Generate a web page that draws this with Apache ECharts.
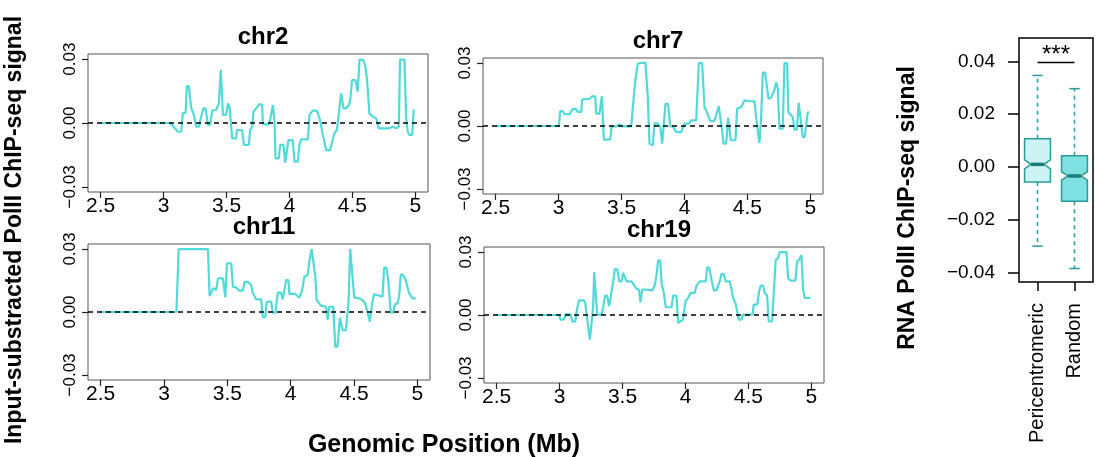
<!DOCTYPE html>
<html>
<head>
<meta charset="utf-8">
<script src="https://cdn.jsdelivr.net/npm/echarts@6/dist/echarts.min.js"></script>
<style>
  html, body { margin: 0; padding: 0; background: #fff; }
  #chart { width: 1099px; height: 457px; }
</style>
</head>
<body>
<div id="chart"></div>
<script>
// Genomic positions (Mb) and input-subtracted Pol II signal, per chromosome
const chr2Pos = [2.5, 3.05, 3.074, 3.114, 3.14, 3.153, 3.175, 3.185, 3.201, 3.22, 3.238, 3.259, 3.28, 3.299, 3.317, 3.333, 3.352, 3.37, 3.386, 3.418, 3.439, 3.455, 3.471, 3.497, 3.511, 3.524, 3.545, 3.577, 3.582, 3.624, 3.638, 3.677, 3.688, 3.704, 3.714, 3.735, 3.762, 3.783, 3.788, 3.828, 3.847, 3.868, 3.881, 3.889, 3.915, 3.926, 3.952, 3.966, 3.981, 3.992, 4.026, 4.04, 4.066, 4.079, 4.093, 4.146, 4.159, 4.185, 4.217, 4.243, 4.265, 4.278, 4.291, 4.323, 4.336, 4.357, 4.376, 4.392, 4.41, 4.429, 4.45, 4.471, 4.481, 4.497, 4.524, 4.542, 4.556, 4.582, 4.601, 4.616, 4.635, 4.661, 4.688, 4.709, 4.794, 4.82, 4.847, 4.868, 4.878, 4.913, 4.926, 4.939, 4.952, 4.974, 4.987];
const chr2Sig = [0, 0, -0.0014, -0.0041, -0.0041, 0.0045, 0.0048, 0.0173, 0.0173, 0.0069, 0.0045, -0.0017, -0.0017, 0.003, 0.0069, 0.0069, -0.0009, -0.0009, 0.0058, 0.0061, 0.0092, 0.025, 0.0038, 0.0038, 0.0092, 0.0077, -0.0072, -0.0072, -0.0033, -0.0033, -0.0103, -0.0103, -0.0033, -0.0017, 0.0053, 0.0069, 0.0088, 0.0088, -0.0002, -0.0009, 0.0014, 0.0084, 0.0014, -0.0166, -0.0166, -0.0103, -0.0103, -0.0186, -0.0186, -0.008, -0.008, -0.0181, -0.0181, -0.0103, -0.0077, -0.0077, 0.0038, 0.0058, 0.0058, 0.0014, -0.0056, -0.0064, -0.0127, -0.0127, -0.0095, -0.0048, -0.0033, 0.0045, 0.0139, 0.0069, 0.0069, 0.0084, 0.01, 0.0202, 0.0202, 0.0147, 0.0298, 0.0298, 0.0272, 0.0202, 0.0045, 0.003, 0.0022, -0.0025, -0.0025, -0.0017, -0.0025, -0.0017, 0.0298, 0.0298, 0.003, -0.0041, -0.0056, -0.0056, 0.0064];

const chr7Pos = [2.5, 3.003, 3.013, 3.034, 3.048, 3.087, 3.108, 3.135, 3.153, 3.18, 3.188, 3.246, 3.267, 3.291, 3.299, 3.325, 3.344, 3.352, 3.36, 3.41, 3.421, 3.458, 3.484, 3.505, 3.577, 3.59, 3.611, 3.63, 3.656, 3.69, 3.709, 3.722, 3.749, 3.762, 3.788, 3.807, 3.823, 3.833, 3.849, 3.87, 3.886, 3.907, 3.934, 3.974, 4.0, 4.034, 4.053, 4.093, 4.114, 4.14, 4.159, 4.172, 4.204, 4.238, 4.272, 4.283, 4.299, 4.31, 4.331, 4.347, 4.357, 4.368, 4.405, 4.418, 4.45, 4.476, 4.516, 4.556, 4.569, 4.595, 4.608, 4.622, 4.64, 4.667, 4.688, 4.714, 4.728, 4.741, 4.754, 4.78, 4.794, 4.815, 4.825, 4.86, 4.873, 4.892, 4.907, 4.921, 4.939, 4.955, 4.979, 4.992];
const chr7Sig = [0, 0, 0.0071, 0.0071, 0.0056, 0.0056, 0.0078, 0.0083, 0.0067, 0.0067, 0.0127, 0.0129, 0.0141, 0.0141, 0.0059, 0.0059, 0.0141, 0.0138, -0.0065, -0.0065, -0.0002, -0.0002, 0.0008, -0.0002, -0.0002, 0.009, 0.0225, 0.0297, 0.03, 0.0302, 0.0135, -0.0084, -0.0092, 0.0014, 0.0011, -0.0002, -0.0084, -0.0084, 0.0106, 0.0106, -0.0002, -0.0002, -0.0029, -0.0029, 0.0011, 0.0011, 0.0027, 0.0027, 0.03, 0.03, 0.009, 0.0075, 0.0024, 0.0024, 0.0094, 0.009, -0.0021, -0.0084, -0.0084, 0.004, 0.004, -0.0068, -0.0068, 0.0083, 0.009, 0.0122, 0.0119, 0.0117, 0.0043, -0.0081, 0.0027, 0.0254, 0.0254, 0.013, 0.0135, 0.017, 0.021, 0.0178, -0.0013, -0.0013, 0.03, 0.03, 0.0067, 0.0043, -0.0017, -0.0017, 0.011, 0.011, -0.0052, -0.0052, 0.0065, 0.0065];

const chr11Pos = [2.5, 3.098, 3.116, 3.347, 3.36, 3.374, 3.387, 3.413, 3.426, 3.465, 3.484, 3.497, 3.531, 3.544, 3.57, 3.591, 3.623, 3.636, 3.662, 3.688, 3.701, 3.728, 3.767, 3.78, 3.799, 3.812, 3.846, 3.859, 3.88, 3.898, 3.924, 3.938, 3.951, 3.964, 3.982, 3.99, 4.037, 4.069, 4.09, 4.108, 4.134, 4.147, 4.166, 4.179, 4.195, 4.205, 4.239, 4.279, 4.292, 4.305, 4.336, 4.352, 4.37, 4.389, 4.41, 4.436, 4.457, 4.47, 4.483, 4.502, 4.541, 4.567, 4.588, 4.606, 4.625, 4.646, 4.659, 4.68, 4.693, 4.725, 4.738, 4.756, 4.772, 4.79, 4.808, 4.824, 4.843, 4.856, 4.869, 4.887, 4.908, 4.921, 4.934, 4.948, 4.961, 4.987];
const chr11Sig = [0, 0, 0.03, 0.03, 0.0076, 0.007, 0.0113, 0.0105, 0.016, 0.016, 0.007, 0.0232, 0.0232, 0.0121, 0.0117, 0.0102, 0.0102, 0.0144, 0.0144, 0.0129, 0.0092, 0.006, 0.006, -0.0025, -0.0025, 0.0049, 0.0049, -0.0003, -0.0003, 0.0092, 0.0092, 0.006, 0.006, 0.0152, 0.0152, 0.0086, 0.0086, 0.0068, 0.0102, 0.0168, 0.0176, 0.024, 0.03, 0.03, 0.0168, 0.0057, 0.003, 0.0025, -0.0038, 0.0025, 0.0025, -0.0165, -0.0165, -0.0027, -0.0086, -0.0086, 0.0049, 0.03, 0.0295, 0.007, 0.0065, 0.0057, 0.0041, 0.0002, -0.0046, 0.0049, 0.0086, 0.0081, 0.0073, 0.0073, 0.0211, 0.0211, 0.0144, -0.0003, -0.0003, 0.0037, 0.0041, 0.0073, 0.0179, 0.0176, 0.0152, 0.0144, 0.0092, 0.0089, 0.0065, 0.0065];

const chr19Pos = [2.5, 2.997, 3.008, 3.034, 3.048, 3.087, 3.103, 3.124, 3.14, 3.156, 3.193, 3.204, 3.22, 3.241, 3.254, 3.267, 3.275, 3.283, 3.299, 3.333, 3.347, 3.362, 3.378, 3.394, 3.407, 3.426, 3.439, 3.458, 3.474, 3.492, 3.505, 3.519, 3.532, 3.571, 3.59, 3.611, 3.63, 3.643, 3.656, 3.69, 3.738, 3.757, 3.77, 3.783, 3.799, 3.81, 3.828, 3.844, 3.889, 3.902, 3.929, 3.942, 3.96, 3.981, 4.0, 4.021, 4.04, 4.074, 4.087, 4.114, 4.161, 4.172, 4.188, 4.206, 4.225, 4.246, 4.272, 4.286, 4.304, 4.32, 4.352, 4.365, 4.378, 4.397, 4.413, 4.423, 4.444, 4.458, 4.532, 4.542, 4.569, 4.585, 4.598, 4.616, 4.63, 4.648, 4.661, 4.688, 4.701, 4.717, 4.735, 4.749, 4.802, 4.815, 4.833, 4.873, 4.886, 4.902, 4.921, 4.934, 4.947, 4.992];
const chr19Sig = [0, 0, -0.0022, -0.0022, 0.0003, 0.0003, -0.0032, -0.0032, 0.0033, 0.007, 0.007, 0.0057, -0.0022, -0.0117, -0.0122, 0.0041, 0.0205, 0.02, 0.0002, 0.0002, 0.0041, 0.0092, 0.0092, 0.0041, 0.0033, 0.016, 0.0219, 0.0219, 0.016, 0.016, 0.02, 0.0192, 0.016, 0.016, 0.0144, 0.0125, 0.0121, 0.006, 0.0121, 0.0121, 0.0117, 0.0144, 0.0192, 0.026, 0.026, 0.0152, 0.0105, 0.0037, 0.0037, 0.0092, 0.0092, -0.0038, -0.003, -0.0022, 0.0065, 0.0081, 0.0105, 0.0105, 0.014, 0.016, 0.016, 0.0227, 0.0227, 0.0171, 0.0117, 0.0117, 0.016, 0.0195, 0.0195, 0.016, 0.016, 0.0124, 0.0081, 0.0057, 0.001, -0.0022, -0.0022, 0.0002, 0.0002, 0.0049, 0.0049, 0.0113, 0.014, 0.014, 0.0105, 0.0092, -0.003, -0.003, 0.0105, 0.0263, 0.0271, 0.03, 0.03, 0.0176, 0.0164, 0.0164, 0.0256, 0.0263, 0.0284, 0.0121, 0.0081, 0.0081];

const chromNames = ['chr2', 'chr7', 'chr11', 'chr19'];
const chromPos = [chr2Pos, chr7Pos, chr11Pos, chr19Pos];
const chromSig = [chr2Sig, chr7Sig, chr11Sig, chr19Sig];

// Tick marks shared by the four track panels
const posTicks = [2.5, 3, 3.5, 4, 4.5, 5];
const sigTicks = [-0.03, 0, 0.03];

// Box plot summaries: whisker low, Q1, notch low, median, notch high, Q3, whisker high
const groupNames = ['Pericentromeric', 'Random'];
const whiskerLow = [-0.0300, -0.0385];
const quart1 = [-0.0057, -0.0130];
const notchLow = [-0.0007, -0.0050];
const medians = [0.0010, -0.0034];
const notchHigh = [0.0027, -0.0018];
const quart3 = [0.0107, 0.0043];
const whiskerHigh = [0.0347, 0.0297];
const boxTicks = [-0.04, -0.02, 0, 0.02, 0.04];
const sigBar = { level: 0.0396, text: '***' };

// ---- layout / styling ----
const FONT = 'Liberation Sans, Arial, Helvetica, sans-serif';
const TRACK_COLOR = '#52d9d9';
const panelBoxes = [
  { left: 88, top: 54, width: 340, height: 138 },
  { left: 483, top: 58, width: 340, height: 136 },
  { left: 88, top: 244, width: 342, height: 136 },
  { left: 484, top: 247, width: 340, height: 136 }
];
const boxGrid = { left: 1019, top: 38, width: 74, height: 244 };
const boxFills = ['#cdf4f4', '#7fe1e1'];
const boxEdge = '#2a9c97';
const medianColor = '#1c7c78';

const fmtSig = v => (v < 0 ? '\u2212' : '') + Math.abs(v).toFixed(2);

const grids = [], xAxes = [], yAxes = [], series = [], titles = [];

panelBoxes.forEach((b, i) => {
  grids.push(Object.assign({
    show: true, borderColor: '#555', borderWidth: 1,
    backgroundColor: 'transparent', containLabel: false, outerBoundsMode: 'none'
  }, b));
  xAxes.push({
    gridIndex: i, type: 'value', min: 2.4, max: 5.1, position: 'bottom',
    axisLine: { show: false, onZero: false }, splitLine: { show: false },
    axisTick: { show: true, inside: false, customValues: posTicks, length: 6, lineStyle: { color: '#222', width: 1.2 } },
    axisLabel: { customValues: posTicks, formatter: v => String(v), fontSize: 21, color: '#000', margin: 4, fontFamily: FONT }
  });
  yAxes.push({
    gridIndex: i, type: 'value', min: -0.0324, max: 0.0324, position: 'left',
    axisLine: { show: false, onZero: false }, splitLine: { show: false },
    axisTick: { show: true, inside: false, customValues: sigTicks, length: 6, lineStyle: { color: '#222', width: 1.2 } },
    axisLabel: { customValues: sigTicks, rotate: 90, formatter: fmtSig, fontSize: 17, color: '#000', margin: 9, fontFamily: FONT }
  });
  titles.push({
    text: chromNames[i],
    left: b.left + b.width / 2, top: b.top - 34, textAlign: 'center',
    textStyle: { fontSize: 24, fontWeight: 'bold', color: '#000', fontFamily: FONT }
  });
  series.push({
    name: chromNames[i], type: 'line', xAxisIndex: i, yAxisIndex: i,
    data: chromPos[i].map((p, k) => [p, chromSig[i][k]]),
    showSymbol: false, symbol: 'none', smooth: false,
    lineStyle: { color: TRACK_COLOR, width: 2.2 },
    markLine: {
      silent: true, symbol: ['none', 'none'], z: 5,
      label: { show: false },
      lineStyle: { color: '#000', type: [5, 4], width: 1.5 },
      data: [{ yAxis: 0 }]
    }
  });
});

// Box plot panel
const bi = panelBoxes.length;
grids.push(Object.assign({
  show: true, borderColor: '#000', borderWidth: 1.5,
  backgroundColor: 'transparent', containLabel: false, outerBoundsMode: 'none'
}, boxGrid));
xAxes.push({
  gridIndex: bi, type: 'category', data: groupNames, boundaryGap: true, position: 'bottom',
  axisLine: { show: false, onZero: false }, splitLine: { show: false },
  axisTick: { show: true, inside: false, alignWithLabel: true, length: 9, lineStyle: { color: '#000', width: 1.5 } },
  axisLabel: { rotate: 90, fontSize: 20, color: '#000', margin: 21, fontFamily: FONT }
});
yAxes.push({
  gridIndex: bi, type: 'value', min: -0.0436, max: 0.0489, position: 'left',
  axisLine: { show: false, onZero: false }, splitLine: { show: false },
  axisTick: { show: true, inside: false, customValues: boxTicks, length: 11, lineStyle: { color: '#000', width: 1.5 } },
  axisLabel: { customValues: boxTicks, formatter: fmtSig, fontSize: 19, color: '#000', margin: 24, fontFamily: FONT }
});

const boxData = groupNames.map((g, k) => [k, whiskerLow[k], quart1[k], notchLow[k], medians[k], notchHigh[k], quart3[k], whiskerHigh[k]]);

series.push({
  type: 'custom', xAxisIndex: bi, yAxisIndex: bi,
  data: boxData,
  encode: { x: 0, y: [1, 2, 3, 4, 5, 6, 7] },
  renderItem: function (params, api) {
    const c = api.value(0);
    const cx = api.coord([c, 0])[0];
    const yv = v => api.coord([c, v])[1];
    const band = api.size([1, 0])[0];
    const half = band * 0.35;
    const inset = half * 0.5;
    const cap = band * 0.14;
    const wLo = yv(api.value(1)), q1 = yv(api.value(2)), nLo = yv(api.value(3)),
      med = yv(api.value(4)), nHi = yv(api.value(5)), q3 = yv(api.value(6)), wHi = yv(api.value(7));
    const L = cx - half, R = cx + half;
    const dash = { stroke: boxEdge, lineWidth: 1.5, lineDash: [4, 4] };
    const solid = { stroke: boxEdge, lineWidth: 1.5 };
    return {
      type: 'group',
      children: [
        { type: 'line', shape: { x1: cx, y1: q3, x2: cx, y2: wHi }, style: dash },
        { type: 'line', shape: { x1: cx, y1: q1, x2: cx, y2: wLo }, style: dash },
        { type: 'line', shape: { x1: cx - cap, y1: wHi, x2: cx + cap, y2: wHi }, style: solid },
        { type: 'line', shape: { x1: cx - cap, y1: wLo, x2: cx + cap, y2: wLo }, style: solid },
        {
          type: 'polygon',
          shape: { points: [[L, q3], [R, q3], [R, nHi], [R - inset, med], [R, nLo], [R, q1], [L, q1], [L, nLo], [L + inset, med], [L, nHi]] },
          style: { fill: boxFills[params.dataIndex], stroke: boxEdge, lineWidth: 1.5 }
        },
        { type: 'line', shape: { x1: L + inset, y1: med, x2: R - inset, y2: med }, style: { stroke: medianColor, lineWidth: 3.5 } }
      ]
    };
  }
});

// Significance bracket between the two groups
series.push({
  type: 'custom', xAxisIndex: bi, yAxisIndex: bi,
  data: [[0, 1, sigBar.level]],
  renderItem: function (params, api) {
    const a = api.coord([api.value(0), api.value(2)]);
    const b = api.coord([api.value(1), api.value(2)]);
    return {
      type: 'group',
      children: [
        { type: 'line', shape: { x1: a[0], y1: a[1], x2: b[0], y2: b[1] }, style: { stroke: '#000', lineWidth: 1.5 } },
        {
          type: 'text', x: (a[0] + b[0]) / 2, y: a[1] + 5,
          style: { text: sigBar.text, fontSize: 24, fontFamily: FONT, fill: '#000', align: 'center', verticalAlign: 'bottom' }
        }
      ]
    };
  }
});

const chart = echarts.init(document.getElementById('chart'), null, { renderer: 'canvas' });
chart.setOption({
  animation: false,
  backgroundColor: '#fff',
  textStyle: { fontFamily: FONT },
  title: titles,
  grid: grids,
  xAxis: xAxes,
  yAxis: yAxes,
  series: series,
  graphic: [
    {
      type: 'text', x: 15, y: 230, rotation: Math.PI / 2,
      style: { text: 'Input-substracted PolII ChIP-seq signal', fontSize: 23, fontWeight: 'bold', fontFamily: FONT, fill: '#000', align: 'center', verticalAlign: 'middle' }
    },
    {
      type: 'text', x: 444, y: 445,
      style: { text: 'Genomic Position (Mb)', fontSize: 25, fontWeight: 'bold', fontFamily: FONT, fill: '#000', align: 'center', verticalAlign: 'middle' }
    },
    {
      type: 'text', x: 908, y: 208, rotation: Math.PI / 2,
      style: { text: 'RNA PolII ChIP-seq signal', fontSize: 23, fontWeight: 'bold', fontFamily: FONT, fill: '#000', align: 'center', verticalAlign: 'middle' }
    }
  ]
});
</script>
</body>
</html>
